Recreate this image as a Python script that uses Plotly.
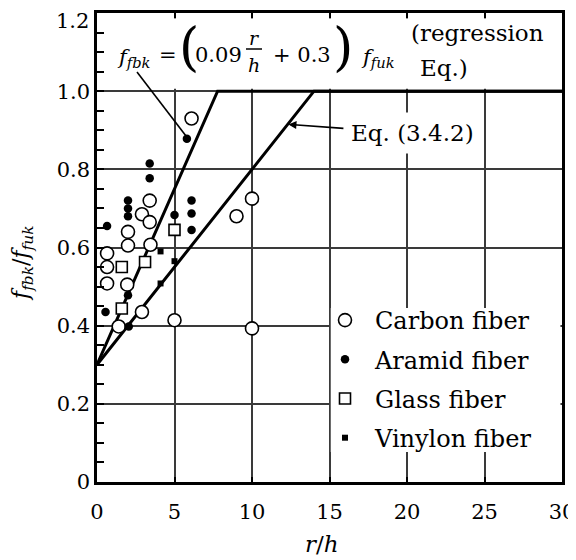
import plotly.graph_objects as go

# ---------------- data ----------------
carbon_x = [6.1, 3.4, 2.9, 3.4, 2.0, 2.0, 3.45, 0.65, 0.65, 0.65, 1.95, 2.9, 1.4, 5.0, 10.0, 9.0, 10.0]
carbon_y = [0.93, 0.72, 0.685, 0.665, 0.64, 0.605, 0.607, 0.585, 0.55, 0.508, 0.505, 0.435, 0.398, 0.414, 0.393, 0.68, 0.725]

aramid_x = [3.4, 3.4, 2.0, 2.0, 2.0, 0.65, 5.0, 6.1, 6.1, 6.1, 0.55, 2.0, 2.05, 5.8]
aramid_y = [0.815, 0.777, 0.72, 0.70, 0.68, 0.655, 0.683, 0.72, 0.687, 0.645, 0.435, 0.478, 0.398, 0.878]

glass_x = [5.0, 3.1, 1.6, 1.6]
glass_y = [0.645, 0.563, 0.55, 0.444]

vinylon_x = [4.1, 5.0, 4.1]
vinylon_y = [0.59, 0.565, 0.508]

# regression line f = (0.09 r/h + 0.3) capped at 1.0, and Eq. (3.4.2) capped at 1.0
reg_x = [0, 7.78, 30]
reg_y = [0.3, 1.0, 1.0]
eq_x = [0, 14, 30]
eq_y = [0.3, 1.0, 1.0]

x_ticks = [0, 5, 10, 15, 20, 25, 30]
y_ticks = [0, 0.2, 0.4, 0.6, 0.8, 1.0, 1.2]
y_ticktext = ["0", "0.2", "0.4", "0.6", "0.8", "1.0", ""]   # "1.2" drawn separately (top edge)
y_top_label = "1.2"

# ---------------- layout helpers ----------------
OFF = 8                      # page body margin
W, H = 568, 552
PL, PR, PT, PB = 97, 562, 13, 482   # plot area in page pixels
L = PL - OFF
R = W - (PR - OFF)
T = PT - OFF
B = H - (PB - OFF)
PW, PH = PR - PL, PB - PT
FONT = "DejaVu Serif"


def px(xp):
    return (xp - PL) / PW


def py(yp):
    return (PB - yp) / PH


fig = go.Figure()

line_style = dict(color="black", width=3)
fig.add_trace(go.Scatter(x=reg_x, y=reg_y, mode="lines", line=line_style,
                         showlegend=False, hoverinfo="skip"))
fig.add_trace(go.Scatter(x=eq_x, y=eq_y, mode="lines", line=line_style,
                         showlegend=False, hoverinfo="skip"))

fig.add_trace(go.Scatter(x=carbon_x, y=carbon_y, mode="markers", name="Carbon fiber",
                         legendgroup="c",
                         marker=dict(symbol="circle", size=13, color="white",
                                     line=dict(color="black", width=1.6))))
fig.add_trace(go.Scatter(x=aramid_x, y=aramid_y, mode="markers", name="Aramid fiber",
                         legendgroup="a",
                         marker=dict(symbol="circle", size=8.5, color="black",
                                     line=dict(color="black", width=0))))
fig.add_trace(go.Scatter(x=glass_x, y=glass_y, mode="markers", name="Glass fiber",
                         legendgroup="g",
                         marker=dict(symbol="square", size=11, color="white",
                                     line=dict(color="black", width=1.6))))
fig.add_trace(go.Scatter(x=vinylon_x, y=vinylon_y, mode="markers", name="Vinylon fiber",
                         legendgroup="v",
                         marker=dict(symbol="square", size=6, color="black",
                                     line=dict(color="black", width=0))))

# white areas (formula band and legend box) that hide the grid
shapes = [
    dict(type="rect", xref="x", yref="y", x0=0.5, x1=29.9, y0=1.006, y1=1.186,
         fillcolor="white", line=dict(width=0), layer="above"),
    dict(type="rect", xref="x", yref="y", x0=15.08, x1=29.9, y0=0.077, y1=0.445,
         fillcolor="white", line=dict(width=0), layer="above"),
    # pointer from formula to the regression line
    dict(type="line", xref="paper", yref="paper", x0=px(137), y0=py(72),
         x1=px(186), y1=py(136), line=dict(color="black", width=1.6), layer="above"),
    # fraction bar r/h
    dict(type="line", xref="paper", yref="paper", x0=px(246), y0=py(49),
         x1=px(262), y1=py(49), line=dict(color="black", width=1.5), layer="above"),
]

annotations = []


def txt(text, x, y, size, xanchor="center", yanchor="middle", **kw):
    annotations.append(dict(text=text, x=px(x), y=py(y), xref="paper", yref="paper",
                            xanchor=xanchor, yanchor=yanchor, showarrow=False,
                            font=dict(family=FONT, size=size, color="black"), **kw))


# formula pieces
txt("<i>f</i><sub><i>fbk</i></sub>", 134, 58, 21)
txt("=", 168, 55, 21)
txt("(", 189, 47, 52)
txt("0.09", 218, 55, 21)
txt("<i>r</i>", 254, 38, 19)
txt("<i>h</i>", 254, 65, 19)
txt("+ 0.3", 302, 55, 21)
txt(")", 343, 47, 52)
txt("<i>f</i><sub><i>fuk</i></sub>", 378, 58, 21)
txt("(regression", 409, 33, 23, xanchor="left")
txt("Eq.)", 418, 68, 23, xanchor="left")

# top y tick label (kept inside the visible page)
txt(y_top_label, 91, 21, 21, xanchor="right")

# axis titles
txt("<i>r</i>/<i>h</i>", 322, 544, 23)
txt("<i>f</i><sub><i>fbk</i></sub>/<i>f</i><sub><i>fuk</i></sub>", 22, 263, 22, textangle=-90)

# Eq. (3.4.2) label with arrow
annotations.append(dict(text="Eq. (3.4.2)", x=12.35, y=0.915, xref="x", yref="y",
                        ax=124, ay=9, showarrow=True, arrowhead=2, arrowsize=1,
                        arrowwidth=1.6, arrowcolor="black", standoff=0,
                        bgcolor="white", borderpad=7,
                        font=dict(family=FONT, size=23, color="black")))

grid = dict(showgrid=True, gridcolor="#3a3a3a", gridwidth=1.6, zeroline=False,
            showline=True, linecolor="black", linewidth=2.5, automargin=False,
            ticklabeloverflow="allow",
            tickfont=dict(family=FONT, size=21, color="black"))

fig.update_layout(
    width=W, height=H,
    margin=dict(l=L, r=R, t=T, b=B, pad=0, autoexpand=False),
    paper_bgcolor="white", plot_bgcolor="white",
    xaxis=dict(range=[0, 30], tickmode="array", tickvals=x_ticks,
               ticks="inside", ticklen=5, tickwidth=1.6, tickcolor="black",
               mirror="ticks", ticklabelstandoff=9, **grid),
    yaxis=dict(range=[0, 1.2], tickmode="array", tickvals=y_ticks, ticktext=y_ticktext,
               ticks="inside", ticklen=7, tickwidth=1.6, tickcolor="black",
               mirror=True,
               minor=dict(tickmode="linear", tick0=0, dtick=0.05, ticks="inside",
                          ticklen=7, tickwidth=1.6, tickcolor="black", showgrid=False),
               **grid),
    legend=dict(x=px(315), y=py(298), xanchor="left", yanchor="top",
                bgcolor="rgba(0,0,0,0)", borderwidth=0, itemwidth=50,
                tracegroupgap=5,
                font=dict(family=FONT, size=24, color="black")),
    shapes=shapes,
    annotations=annotations,
    font=dict(family=FONT, color="black"),
)

fig.write_html("out.html")
